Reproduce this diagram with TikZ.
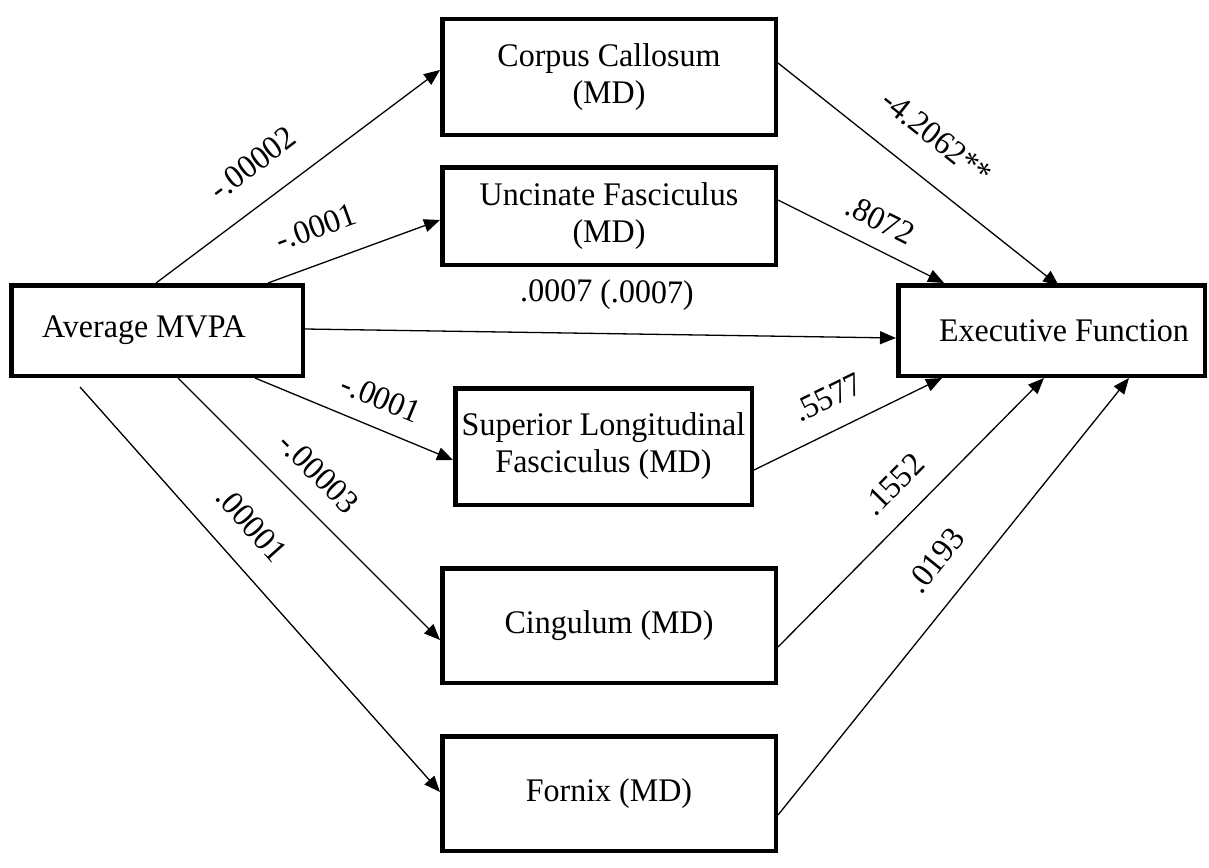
\documentclass[tikz,border=0pt]{standalone}
\usepackage{fontspec}
\setmainfont[FakeStretch=0.97]{Liberation Serif}
\usetikzlibrary{arrows.meta}

\begin{document}
\begin{tikzpicture}[x=1pt,y=-1pt,font=\fontsize{33}{37}\selectfont,
  varbox/.style={draw,line width=4.5pt,align=center,inner sep=0pt},
  effect/.style={line width=1.3pt,-{Triangle[length=16pt,width=13pt]}},
  coef/.style={sloped,inner sep=3pt}]
\useasboundingbox (0,0) rectangle (1209,867);
\node[varbox,minimum width=291.5pt,minimum height=90.5pt] (mvpa) at (157,330.5) {Average MVPA\hspace*{26pt}};
\node[varbox,minimum width=306.5pt,minimum height=90.5pt] (ef) at (1051.5,330.5) {\hspace*{25pt}Executive Function};
\node[varbox,minimum width=333.5pt,minimum height=115.5pt] (cc) at (609,77) {Corpus Callosum\\(MD)};
\node[varbox,minimum width=333.5pt,minimum height=97.5pt] (uf) at (609,216) {Uncinate Fasciculus\\(MD)};
\node[varbox,minimum width=296.5pt,minimum height=116.5pt] (slf) at (603.5,446.5) {Superior Longitudinal\\Fasciculus (MD)};
\node[varbox,minimum width=333.5pt,minimum height=114.5pt] (cing) at (609,625.5) {Cingulum (MD)};
\node[varbox,minimum width=333.5pt,minimum height=114.5pt] (fx) at (609,793.5) {Fornix (MD)};

\draw[effect] ([xshift=147pt]mvpa.north west) -- ([yshift=7pt]cc.west) node[coef,pos=0.42,above=23pt] {-.00002};
\draw[effect] ([xshift=259pt]mvpa.north west) -- ([yshift=-4pt]uf.west) node[coef,pos=0.35,above=21pt] {-.0001};
\draw[effect] ([yshift=1.5pt]mvpa.east) -- ([yshift=-7.5pt]ef.west) node[coef,pos=0.51,above=20.5pt] {.0007 (.0007)};
\draw[effect] ([xshift=246pt]mvpa.south west) -- ([yshift=-13.5pt]slf.west) node[coef,pos=0.58,above=15pt] {-.0001};
\draw[effect] ([xshift=169pt]mvpa.south west) -- ([yshift=-14.5pt]cing.west) node[coef,pos=0.45,above=17.5pt] {-.00003};
\draw[effect] ([xshift=71pt,yshift=-9pt]mvpa.south west) -- ([yshift=1.5pt]fx.west) node[coef,pos=0.4,above=22pt] {.00001};

\draw[effect] ([yshift=14pt]cc.east) -- ([xshift=163pt,yshift=-3pt]ef.north west) node[coef,pos=0.475,above=26pt] {-4.2062**};
\draw[effect] ([yshift=16pt]uf.east) -- ([xshift=48pt]ef.north west) node[coef,pos=0.54,above=13pt] {.8072};
\draw[effect] ([yshift=-23.5pt]slf.east) -- ([xshift=46pt]ef.south west) node[coef,pos=0.47,above=18pt] {.5577};
\draw[effect] ([yshift=-21.5pt]cing.east) -- ([xshift=148pt]ef.south west) node[coef,pos=0.52,above=17.5pt] {.1552};
\draw[effect] ([yshift=-21.5pt]fx.east) -- ([xshift=233pt]ef.south west) node[coef,pos=0.53,above=22pt] {.0193};
\end{tikzpicture}
\end{document}
